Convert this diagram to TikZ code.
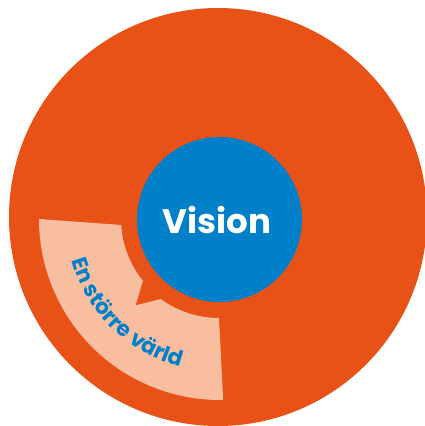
\documentclass[tikz,border=0pt]{standalone}
\usepackage{fontspec}
\newfontfamily\pop{Poppins}
\usetikzlibrary{decorations.text,calc}
\definecolor{orng}{RGB}{232,82,22}
\definecolor{vblue}{RGB}{0,128,200}
\definecolor{peach}{RGB}{249,190,160}
\begin{document}
\begin{tikzpicture}[x=1pt,y=1pt]
\useasboundingbox (0,0) rectangle (425,426);
\clip (0,0) rectangle (425,426);
\coordinate (C) at (219,207);
% outer orange disc
\fill[orng] (218,209) circle[radius=209];
% peach sector with speech-bubble notch
\fill[peach] ($(C)+(180:180)$) arc[start angle=180,end angle=271,radius=181]
  -- ($(C)+(270:99)$) arc[start angle=270,end angle=234,radius=99]
  -- ($(C)+(226:120)$)
  -- ($(C)+(219:98)$) arc[start angle=219,end angle=183.5,radius=98]
  -- cycle;
% text along arc
\path[decorate,decoration={text along path,
    text={|\pop\bfseries\fontsize{21.5}{21.5}\selectfont\color{vblue}|En större värld},
    text align=center}]
  ($(C)+(191:153)$) arc[start angle=191,end angle=260,radius=153];
% blue circle
\node[circle,fill=vblue,minimum size=165pt,inner sep=0pt] (vision) at (219.5,206.5) {};
\node[text=white,font=\pop\bfseries\fontsize{34}{34}\selectfont] (vlabel) at (217,206) {Vision};
\end{tikzpicture}
\end{document}
